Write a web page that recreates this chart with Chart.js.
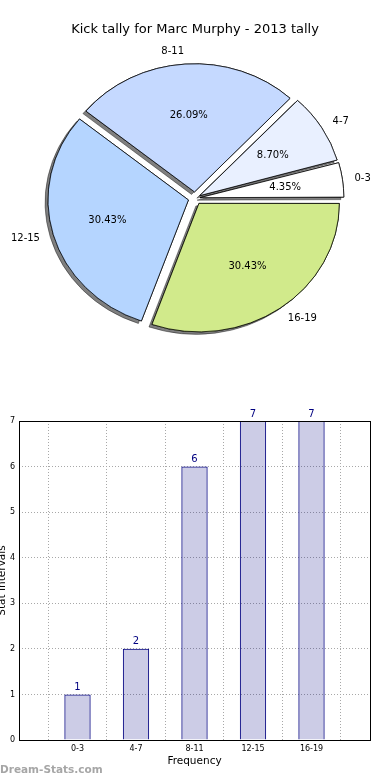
<!DOCTYPE html>
<html>
<head>
<meta charset="utf-8">
<script src="https://cdn.jsdelivr.net/npm/chart.js@4"></script>
<style>
  html, body { margin: 0; padding: 0; background: #fff; }
  body { width: 390px; height: 780px; position: relative; overflow: hidden; }
  #pieBox { position: absolute; left: 0; top: 0; width: 390px; height: 396px; }
  #barBox { position: absolute; left: 0; top: 400px; width: 390px; height: 380px; }
  #mark { position: absolute; left: 0; top: 763px; font: bold 10.5px "DejaVu Sans", sans-serif; color: #a6a6a6; }
</style>
</head>
<body>
<div id="pieBox"><canvas id="pieChart"></canvas></div>
<div id="barBox"><canvas id="barChart"></canvas></div>
<div id="mark">Dream-Stats.com</div>
<script>
// Data
const chartTitle = 'Kick tally for Marc Murphy - 2013 tally';
const categories = ['0-3', '4-7', '8-11', '12-15', '16-19'];
const tallies = [1, 2, 6, 7, 7];
const sliceColors = ['#ffffff', '#e9f0ff', '#c5d9ff', '#b5d5ff', '#d1ea8b'];
const yTicks = [0, 1, 2, 3, 4, 5, 6, 7];

Chart.defaults.font.family = "'DejaVu Sans', sans-serif";
Chart.defaults.color = '#000';

const EXPLODE = 7;      // px the slices are pushed out
const SQUASH = 0.915;   // pie is a bit flatter than it is wide
const total = tallies.reduce((a, b) => a + b, 0);

// pie goes clockwise in Chart.js, so feed it backwards
const pieLabels = categories.slice().reverse();
const pieValues = tallies.slice().reverse();
const pieColors = sliceColors.slice().reverse();

// Chart.js also grows thin slices when offset, so push those a bit less
function sliceOffset(c) {
    const sweep = Math.min(Math.PI, c.parsed / total * 2 * Math.PI);
    const fix = 1 - Math.sin(sweep);
    return EXPLODE * 4 / (1 + fix / 2);
}

const pieLook = {
    id: 'pieLook',
    beforeDatasetsDraw(chart) {
        const arcs = chart.getDatasetMeta(0).data;
        const ctx = chart.ctx;
        ctx.save();
        ctx.translate(arcs[0].x, arcs[0].y);
        ctx.scale(1, SQUASH);
        ctx.translate(-arcs[0].x, -arcs[0].y);
        // shadow pass underneath, then normal drawing on top
        ctx.save();
        ctx.shadowColor = 'rgba(0,0,0,0.5)';
        ctx.shadowOffsetX = -3;
        ctx.shadowOffsetY = 2.5;
        ctx.shadowBlur = 0;
        arcs.forEach(a => a.draw(ctx));
        ctx.restore();
    },
    afterDatasetsDraw(chart) {
        const ctx = chart.ctx;
        ctx.restore();
        ctx.save();
        ctx.fillStyle = '#000';
        ctx.font = "10px 'DejaVu Sans', sans-serif";
        ctx.textBaseline = 'middle';
        chart.getDatasetMeta(0).data.forEach((arc, i) => {
            const mid = (arc.startAngle + arc.endAngle) / 2;
            const r = arc.outerRadius;
            const ux = Math.cos(mid), uy = Math.sin(mid);
            const at = d => [arc.x + ux * (EXPLODE + d * r), arc.y + uy * (EXPLODE + d * r) * SQUASH];
            let p = at(0.6);
            ctx.textAlign = 'center';
            ctx.fillText((pieValues[i] / total * 100).toFixed(2) + '%', p[0], p[1]);
            p = at(1.1);
            ctx.textAlign = ux >= 0 ? 'left' : 'right';
            ctx.fillText(pieLabels[i], p[0], p[1]);
        });
        ctx.restore();
    }
};

new Chart(document.getElementById('pieChart'), {
    type: 'pie',
    data: {
        labels: pieLabels,
        datasets: [{
            data: pieValues,
            backgroundColor: pieColors,
            borderColor: '#000',
            borderWidth: 0.8,
            offset: sliceOffset,
            hoverOffset: 0,
            radius: 140,
            clip: false
        }]
    },
    options: {
        responsive: true,
        maintainAspectRatio: false,
        animation: false,
        events: [],
        rotation: 90,
        layout: { padding: { bottom: 46 } },
        plugins: {
            legend: { display: false },
            tooltip: { enabled: false },
            title: {
                display: true,
                text: chartTitle,
                font: { size: 13, weight: 'normal' },
                padding: { top: 22, bottom: 9 }
            }
        }
    },
    plugins: [pieLook]
});

// frame round the plot and numbers on top of bars
const barExtras = {
    id: 'barExtras',
    afterDatasetsDraw(chart) {
        const ctx = chart.ctx;
        const a = chart.chartArea;
        ctx.save();
        ctx.strokeStyle = '#000';
        ctx.lineWidth = 1;
        ctx.strokeRect(Math.round(a.left) + 0.5, Math.round(a.top) + 0.5,
            Math.round(a.right - a.left), Math.round(a.bottom - a.top));
        ctx.fillStyle = '#000080';
        ctx.font = "10px 'DejaVu Sans', sans-serif";
        ctx.textAlign = 'center';
        ctx.textBaseline = 'bottom';
        chart.getDatasetMeta(0).data.forEach((bar, i) => {
            ctx.fillText(String(tallies[i]), bar.x, bar.y - 2);
        });
        ctx.restore();
    }
};

const gridLook = { color: '#a8a8a8', lineWidth: 1, drawTicks: false };
const borderLook = { display: false, dash: [1, 2] };

new Chart(document.getElementById('barChart'), {
    type: 'bar',
    data: {
        datasets: [{
            data: tallies.map((v, i) => ({ x: i + 1, y: v })),
            backgroundColor: 'rgba(0,0,128,0.2)',
            borderColor: '#000080',
            borderWidth: 1,
            barPercentage: 0.45,
            categoryPercentage: 1
        }]
    },
    options: {
        responsive: true,
        maintainAspectRatio: false,
        animation: false,
        events: [],
        layout: { padding: { top: 21, right: 20 } },
        plugins: {
            legend: { display: false },
            tooltip: { enabled: false }
        },
        scales: {
            x: {
                type: 'linear',
                min: 0,
                max: 6,
                offset: false,
                afterBuildTicks: s => { s.ticks = categories.map((c, i) => ({ value: i + 1 })); },
                afterFit: s => { s.height = 40; },
                ticks: {
                    callback: v => categories[v - 1] ?? '',
                    font: { size: 8 },
                    padding: 4,
                    autoSkip: false,
                    maxRotation: 0
                },
                grid: gridLook,
                border: borderLook,
                title: { display: true, text: 'Frequency', font: { size: 10.5 }, padding: { top: 0, bottom: 12 } }
            },
            y: {
                min: 0,
                max: 7,
                afterBuildTicks: s => { s.ticks = yTicks.map(v => ({ value: v })); },
                afterFit: s => { s.width = 19; },
                ticks: { font: { size: 8 }, padding: 4 },
                grid: gridLook,
                border: borderLook,
                title: { display: true, text: 'Stat Intervals', font: { size: 10.5 }, padding: { top: -4, bottom: 0 } }
            }
        }
    },
    plugins: [barExtras]
});
</script>
</body>
</html>
